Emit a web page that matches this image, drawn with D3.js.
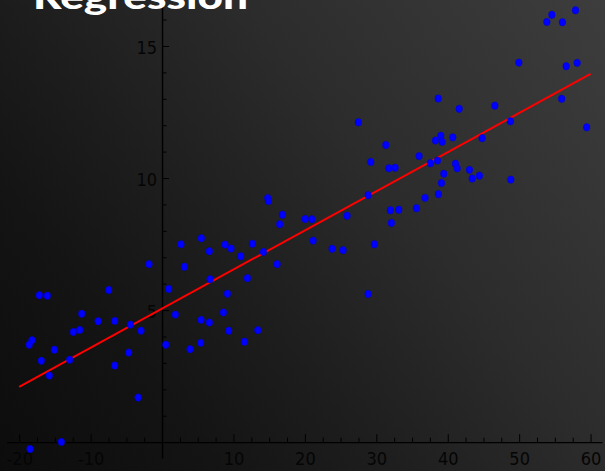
<!DOCTYPE html>
<html>
<head>
<meta charset="utf-8">
<script src="https://cdn.jsdelivr.net/npm/d3@7/dist/d3.min.js"></script>
<style>
  html, body { margin: 0; padding: 0; background: #1a1a1a; }
  svg { display: block; }
  .tick text { font-family: "DejaVu Sans Condensed", "DejaVu Sans", sans-serif; font-stretch: condensed; }
</style>
</head>
<body>
<svg id="chart" width="605" height="471"></svg>
<script>
// Sample observations (x, y)
const xValues = [
  -1.82, 3.12, -17.18, -16.06, -7.46, 0.94, -11.25, -8.96, -6.62, 1.86,
  -12.42, -11.53, -4.44, -2.94, -18.21, -18.59, -15.08, 0.52, 3.92, 5.42,
  -16.90, -12.93, -4.66, -6.62, -15.78, -3.36, -14.10, -18.49, 14.80, 14.89,
  16.85, 16.48, 20.03, 20.97, 25.91, 21.15, 23.81, 25.35, 5.50, 2.66,
  8.82, 12.65, 6.62, 9.66, 11.02, 14.19, 16.11, 6.72, 11.95, 9.15,
  8.59, 5.46, 6.62, 9.34, 13.40, 11.53, 38.66, 41.60, 46.60, 27.49,
  48.78, 31.33, 39.03, 38.28, 39.22, 40.71, 44.82, 29.23, 31.75, 32.63,
  35.99, 37.58, 38.56, 41.08, 41.32, 43.04, 39.45, 43.42, 44.44, 48.84,
  39.12, 28.85, 38.70, 36.83, 35.62, 31.97, 33.15, 32.11, 29.73, 28.85,
  54.58, 53.88, 56.06, 57.89, 49.96, 56.58, 58.12, 55.95, 59.45
];
const yValues = [
  6.74, 6.64, 5.56, 5.54, 5.76, 5.80, 4.86, 4.58, 4.59, 4.83,
  4.17, 4.25, 4.45, 4.22, 3.86, 3.69, 3.50, 3.69, 3.52, 3.76,
  3.08, 3.12, 3.39, 2.90, 2.52, 1.69, 0.01, -0.26, 9.24, 9.13,
  8.61, 8.25, 8.45, 8.44, 8.57, 7.63, 7.32, 7.27, 7.72, 7.49,
  7.48, 7.51, 7.23, 7.33, 7.04, 7.20, 6.74, 6.17, 6.21, 5.62,
  4.91, 4.63, 4.53, 4.22, 4.24, 3.80, 13.01, 12.62, 12.74, 12.11,
  12.15, 11.25, 11.60, 11.42, 11.37, 11.54, 11.51, 10.61, 10.37, 10.39,
  10.83, 10.56, 10.66, 10.54, 10.37, 10.31, 10.16, 9.98, 10.09, 9.94,
  9.81, 9.35, 9.39, 9.25, 8.86, 8.78, 8.80, 8.30, 7.49, 5.61,
  16.18, 15.91, 15.90, 16.35, 14.37, 14.23, 14.36, 13.00, 11.92
];

// Fitted regression line endpoints
const fitX = [-20, 60];
const fitY = [2.09, 13.94];

// Axis ticks
const xMajorTicks = [-20, -10, 10, 20, 30, 40, 50, 60];
const xTickLabels = ["-20", "-10", "10", "20", "30", "40", "50", "60"];
const yMajorTicks = [5, 10, 15];
const yTickLabels = ["5", "10", "15"];
const xMinorTicks = d3.range(-20, 60.01, 2.5).filter(v => v % 10 !== 0);
const yMinorTicks = d3.range(1, 16.01, 1).filter(v => v % 5 !== 0);

const titleText = "Regression";

const W = 605, H = 471;
const svg = d3.select("#chart");

// Diagonal dark background gradient
const defs = svg.append("defs");
const grad = defs.append("linearGradient")
  .attr("id", "bg")
  .attr("gradientUnits", "userSpaceOnUse")
  .attr("x1", 0).attr("y1", H).attr("x2", W).attr("y2", 0);
[[0, "#0c0c0c"], [0.23, "#141414"], [0.39, "#1d1d1d"], [0.63, "#2c2c2c"], [0.93, "#3a3a3a"], [1, "#3d3d3d"]]
  .forEach(([o, c]) => grad.append("stop").attr("offset", o).attr("stop-color", c));
svg.append("rect").attr("width", W).attr("height", H).attr("fill", "url(#bg)");

const x = d3.scaleLinear().domain([-21.75, 61.6]).range([6.7, 602]);
const y = d3.scaleLinear().domain([-0.6, 16.74]).range([458, 0]);

const axisColor = "#000";
const labelColor = "#050505";

// X axis (ticks pointing up, labels below)
const xAxis = svg.append("g")
  .attr("transform", `translate(0,${y(0)})`)
  .call(d3.axisBottom(x)
    .tickValues(xMajorTicks)
    .tickFormat((d, i) => xTickLabels[i])
    .tickSizeInner(-8).tickSizeOuter(0).tickPadding(10));
xAxis.select(".domain").attr("stroke", axisColor).attr("stroke-width", 1.4);
xAxis.selectAll(".tick line").attr("stroke", axisColor).attr("stroke-width", 1);
xAxis.selectAll(".tick text").attr("fill", labelColor).attr("font-size", 18);

const xMinor = svg.append("g")
  .attr("transform", `translate(0,${y(0)})`)
  .call(d3.axisBottom(x).tickValues(xMinorTicks).tickFormat("").tickSizeInner(-4.5).tickSizeOuter(0));
xMinor.select(".domain").remove();
xMinor.selectAll(".tick line").attr("stroke", axisColor).attr("stroke-width", 1);

// Y axis (ticks pointing right, labels left)
const yAxis = svg.append("g")
  .attr("transform", `translate(${x(0)},0)`)
  .call(d3.axisLeft(y)
    .tickValues(yMajorTicks)
    .tickFormat((d, i) => yTickLabels[i])
    .tickSizeInner(-7).tickSizeOuter(0).tickPadding(5));
yAxis.select(".domain").attr("stroke", axisColor).attr("stroke-width", 1.4);
yAxis.selectAll(".tick line").attr("stroke", axisColor).attr("stroke-width", 1);
yAxis.selectAll(".tick text").attr("fill", labelColor).attr("font-size", 18).attr("dy", "0.42em");

const yMinor = svg.append("g")
  .attr("transform", `translate(${x(0)},0)`)
  .call(d3.axisLeft(y).tickValues(yMinorTicks).tickFormat("").tickSizeInner(-4.5).tickSizeOuter(0));
yMinor.select(".domain").remove();
yMinor.selectAll(".tick line").attr("stroke", axisColor).attr("stroke-width", 1);

// Regression line
const fitPts = fitX.map((v, i) => [v, fitY[i]]);
svg.append("path")
  .datum(fitPts)
  .attr("d", d3.line().x(d => x(d[0])).y(d => y(d[1])))
  .attr("fill", "none")
  .attr("stroke", "#ff0000")
  .attr("stroke-width", 2);

// Observations
const pts = xValues.map((v, i) => ({ x: v, y: yValues[i] }));
svg.append("g").selectAll("ellipse")
  .data(pts)
  .join("ellipse")
  .attr("cx", d => x(d.x))
  .attr("cy", d => y(d.y))
  .attr("rx", 3.3)
  .attr("ry", 3.7)
  .attr("fill", "#0000ff")
  .attr("stroke", "#0000c8")
  .attr("stroke-width", 0.5);

// Title
svg.append("text")
  .attr("x", 33)
  .attr("y", 8.5)
  .attr("font-family", "Lato, 'Open Sans', sans-serif")
  .attr("font-weight", 900)
  .attr("font-size", 34)
  .attr("fill", "#ffffff")
  .attr("textLength", 215)
  .attr("lengthAdjust", "spacingAndGlyphs")
  .text(titleText);
</script>
</body>
</html>
